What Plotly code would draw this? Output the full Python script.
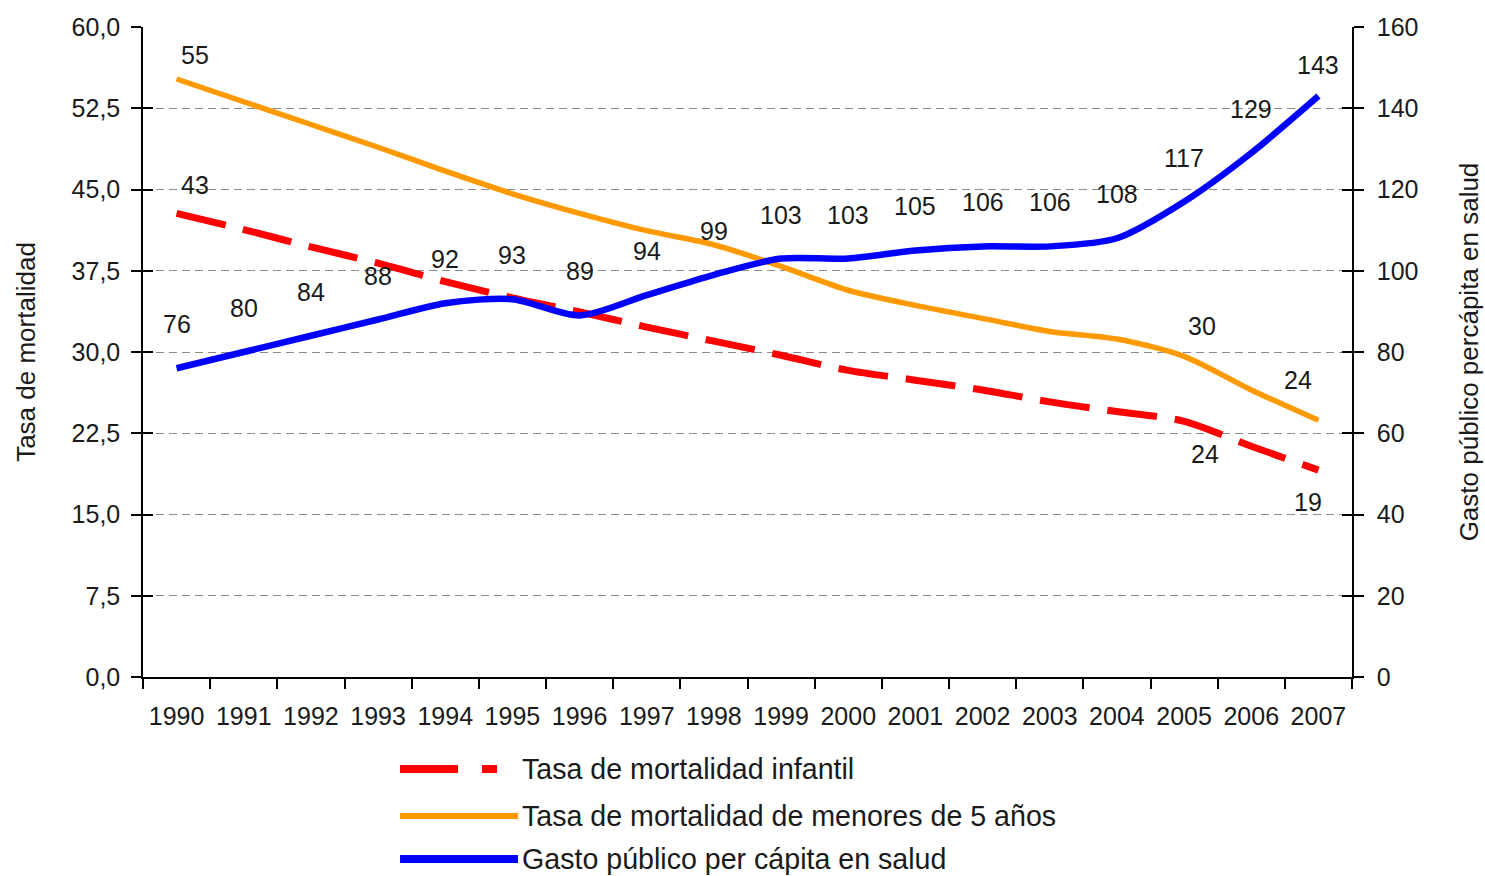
import plotly.graph_objects as go

# ---------------- data ----------------
years = ["1990", "1991", "1992", "1993", "1994", "1995", "1996", "1997", "1998",
         "1999", "2000", "2001", "2002", "2003", "2004", "2005", "2006", "2007"]

infant_mortality = [42.8, 41.3, 39.7, 38.2, 36.5, 35.0, 33.7, 32.3, 31.0,
                    29.7, 28.3, 27.4, 26.5, 25.4, 24.5, 23.6, 21.3, 19.1]
under5_mortality = [55.2, 53.1, 51.0, 48.9, 46.7, 44.6, 42.8, 41.2, 39.9,
                    37.9, 35.7, 34.3, 33.1, 31.9, 31.2, 29.6, 26.5, 23.7]
health_spending = [76, 80, 84, 88, 92, 93, 89, 94, 99,
                   103, 103, 105, 106, 106, 108, 117, 129, 143]

# labelled points (index, text)
infant_labels = [(0, "43"), (15, "24"), (17, "19")]
under5_labels = [(0, "55"), (15, "30"), (17, "24")]

left_ticks = [0, 7.5, 15, 22.5, 30, 37.5, 45, 52.5, 60]
right_ticks = [0, 20, 40, 60, 80, 100, 120, 140, 160]

names = ["Tasa de mortalidad infantil",
         "Tasa de mortalidad de menores de 5 años",
         "Gasto público per cápita en salud"]

# ---------------- style ----------------
RED, ORANGE, BLUE = "#FF0000", "#FF9900", "#0000FF"
TXT = "#1a1a1a"
FONT = "Liberation Sans, Arial, sans-serif"

fig = go.Figure()

fig.add_trace(go.Scatter(x=years, y=under5_mortality, mode="lines", name=names[1],
                         line=dict(color=ORANGE, width=5.5, shape="spline", smoothing=0.8),
                         yaxis="y", showlegend=False))
fig.add_trace(go.Scatter(x=years, y=infant_mortality, mode="lines", name=names[0],
                         line=dict(color=RED, width=7, shape="spline", smoothing=0.8,
                                   dash="50px,18px"),
                         yaxis="y", showlegend=False))
fig.add_trace(go.Scatter(x=years, y=health_spending, mode="lines", name=names[2],
                         line=dict(color=BLUE, width=6.5, shape="spline", smoothing=0.8),
                         yaxis="y2", showlegend=False))
# empty traces to carry the inside-tick overlay axes
fig.add_trace(go.Scatter(x=[], y=[], yaxis="y3", showlegend=False, hoverinfo="skip"))
fig.add_trace(go.Scatter(x=[], y=[], yaxis="y4", showlegend=False, hoverinfo="skip"))

annotations = []
lab_font = dict(family=FONT, size=25, color=TXT)
# blue labels
for i, v in enumerate(health_spending):
    annotations.append(dict(x=i, y=v, xref="x", yref="y2", text=str(v),
                            showarrow=False, yshift=31 if i == len(years) - 1 else 44,
                            font=lab_font))
# red labels
red_shifts = {0: (18, 28), 15: (21, -33), 17: (-10, -32)}
for i, t in infant_labels:
    xs, ys = red_shifts[i]
    annotations.append(dict(x=i, y=infant_mortality[i], xref="x", yref="y", text=t,
                            showarrow=False, xshift=xs, yshift=ys, font=lab_font))
# orange labels
orange_shifts = {0: (18, 24), 15: (18, 30), 17: (-20, 40)}
for i, t in under5_labels:
    xs, ys = orange_shifts[i]
    annotations.append(dict(x=i, y=under5_mortality[i], xref="x", yref="y", text=t,
                            showarrow=False, xshift=xs, yshift=ys, font=lab_font))

# ---- manual legend (long symbols) ----
leg_x0, leg_x1, leg_xt = 0.2126, 0.3102, 0.3120
leg_y = [-0.1415, -0.2138, -0.2800]
leg_styles = [dict(color=RED, width=8, dash="58px,24px"),
              dict(color=ORANGE, width=6),
              dict(color=BLUE, width=8)]
shapes = []
for k in range(3):
    x1 = 0.2928 if k == 0 else leg_x1
    shapes.append(dict(type="line", xref="paper", yref="paper", x0=leg_x0, x1=x1,
                       y0=leg_y[k], y1=leg_y[k], line=leg_styles[k]))
    annotations.append(dict(x=leg_xt, y=leg_y[k], xref="paper", yref="paper",
                            text=names[k], showarrow=False, xanchor="left",
                            yanchor="middle",
                            font=dict(family=FONT, size=28.6, color=TXT)))

axis_common = dict(showline=True, linecolor="black", linewidth=1.5,
                   tickcolor="black", tickwidth=1.5, automargin=False)

fig.update_layout(
    width=1485, height=876,
    margin=dict(l=143, r=133, t=27, b=199, autoexpand=False),
    paper_bgcolor="white", plot_bgcolor="white",
    separators=",.",
    font=dict(family=FONT, size=25, color=TXT),
    xaxis=dict(type="category", range=[-0.5, 17.5], tickson="boundaries",
               ticks="outside", ticklen=10, showgrid=False,
               tickfont=dict(size=25, color=TXT), ticklabelstandoff=16,
               **axis_common),
    yaxis=dict(range=[0, 60], tickvals=left_ticks, tickformat=".1f",
               ticks="outside", ticklen=10, showgrid=True,
               gridcolor="#8a8a8a", gridwidth=1.2, griddash="8px,5px",
               zeroline=False, tickfont=dict(size=25, color=TXT),
               ticklabelstandoff=6,
               title=dict(text="Tasa de mortalidad", standoff=28,
                          font=dict(size=26, color=TXT)),
               **axis_common),
    yaxis2=dict(range=[0, 160], tickvals=right_ticks, overlaying="y", side="right",
                ticks="outside", ticklen=10, showgrid=False, zeroline=False,
                tickfont=dict(size=25, color=TXT), ticklabelstandoff=8,
                title=dict(text="Gasto público percápita en salud", standoff=42,
                           font=dict(size=26, color=TXT)),
                **axis_common),
    yaxis3=dict(range=[0, 60], tickvals=left_ticks, overlaying="y", side="left",
                ticks="inside", ticklen=10, showgrid=False, zeroline=False,
                showticklabels=False, **axis_common),
    yaxis4=dict(range=[0, 160], tickvals=right_ticks, overlaying="y", side="right",
                ticks="inside", ticklen=10, showgrid=False, zeroline=False,
                showticklabels=False, **axis_common),
    annotations=annotations,
    shapes=shapes,
)

fig.write_html("out.html",
               config={"displayModeBar": False},
               post_script="document.body.style.margin='0';"
                           "document.body.style.overflow='hidden';")
